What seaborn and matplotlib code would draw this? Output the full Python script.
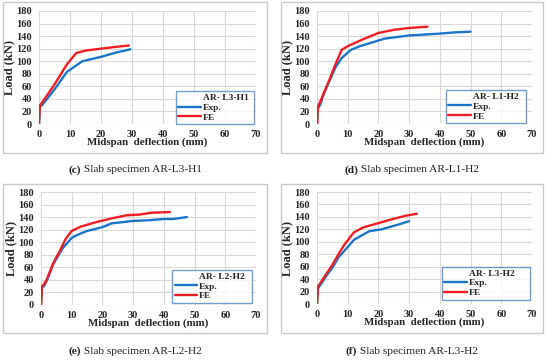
import numpy as np
import pandas as pd
import matplotlib
matplotlib.use("Agg")
import matplotlib.pyplot as plt
from matplotlib.lines import Line2D
from matplotlib.patches import Rectangle
import seaborn as sns

# Load-deflection data (deflection in mm, load in kN)
c_exp_x = [0, 0.3, 1, 5, 9, 14, 20, 25, 29.5]
c_exp_y = [0, 28, 30, 55, 83, 100, 107, 114, 119]
c_fe_x = [0, 0.3, 1, 5, 9, 12, 15, 20, 25, 29]
c_fe_y = [0, 30, 34, 63, 95, 113, 117, 120, 123, 125]

d_exp_x = [0, 0.3, 1, 2, 4, 6, 8, 11, 14, 18, 22, 30, 40, 45, 50]
d_exp_y = [0, 25, 30, 45, 68, 90, 105, 118, 124, 130, 136, 141, 144, 146, 147]
d_fe_x = [0, 0.3, 1, 2, 4, 6, 8, 10, 15, 20, 25, 30, 36]
d_fe_y = [0, 28, 35, 47, 70, 95, 118, 124, 135, 145, 150, 153, 155]

e_exp_x = [0, 0.3, 1, 2, 4, 7, 10, 12, 15, 20, 23, 30, 35, 40, 43, 47.5]
e_exp_y = [0, 28, 30, 40, 65, 90, 107, 112, 118, 124, 130, 134, 135, 137, 137, 140]
e_fe_x = [0, 0.3, 1, 2, 4, 6, 8, 10, 13, 18, 23, 28, 32, 36, 42]
e_fe_y = [0, 30, 33, 42, 67, 85, 105, 118, 125, 132, 138, 143, 144, 147, 148]

f_exp_x = [0, 0.3, 1, 3, 5, 7, 9, 12, 17, 21, 26, 30]
f_exp_y = [0, 25, 30, 45, 58, 75, 86, 103, 117, 120, 127, 133]
f_fe_x = [0, 0.3, 1, 3, 5, 7, 9, 12, 15, 20, 25, 29, 32.5]
f_fe_y = [0, 28, 33, 48, 63, 80, 96, 115, 123, 130, 137, 142, 145]

specimens = ["AR-L3-H1", "AR-L1-H2", "AR-L2-H2", "AR-L3-H2"]
legend_titles = ["AR- L3-H1", "AR- L1-H2", "AR- L2-H2", "AR- L3-H2"]
letters = ["c", "d", "e", "f"]
curves = [
    (c_exp_x, c_exp_y, c_fe_x, c_fe_y),
    (d_exp_x, d_exp_y, d_fe_x, d_fe_y),
    (e_exp_x, e_exp_y, e_fe_x, e_fe_y),
    (f_exp_x, f_exp_y, f_fe_x, f_fe_y),
]
x_ticks = [0, 10, 20, 30, 40, 50, 60, 70]
y_ticks = [0, 20, 40, 60, 80, 100, 120, 140, 160, 180]

sns.set_style("white")
plt.rcParams['font.family'] = ['Liberation Serif', 'DejaVu Serif']

fig = plt.figure(figsize=(5.5, 3.62), dpi=100)
W, H = 550, 362

# panel layout in pixels: (axes left, axes right, axes top, axes bottom, box l, box r, box t, box b, caption y)
layout = [
    (39, 256, 11, 124, 3, 267, 2, 153, 170),
    (317, 532, 11, 124, 281, 543, 2, 153, 170),
    (41, 256, 192, 305, 3, 267, 184, 333, 351),
    (317, 532, 192, 304, 281, 543, 184, 333, 351),
]
legend_boxes = [
    (0.63, 0.0, 0.36, 0.29),
    (0.60, 0.01, 0.37, 0.32),
    (0.61, 0.02, 0.37, 0.31),
    (0.58, 0.04, 0.41, 0.31),
]

blue = '#1a75c9'
red = '#f01e23'
captions = []

for i, (ex, ey, fx, fy) in enumerate(curves):
    al, ar, at, ab, bl, br, bt, bb, cy = layout[i]
    # grey frame around each panel
    fig.patches.append(Rectangle((bl / W, 1 - bb / H), (br - bl) / W, (bb - bt) / H,
                                 transform=fig.transFigure, fill=False,
                                 edgecolor='#c8c8c8', linewidth=1.0))
    ax = fig.add_axes([al / W, 1 - ab / H, (ar - al) / W, (ab - at) / H])
    df_exp = pd.DataFrame({'x': ex, 'y': ey})
    df_fe = pd.DataFrame({'x': fx, 'y': fy})
    sns.lineplot(data=df_exp, x='x', y='y', ax=ax, color=blue, linewidth=1.7,
                 label='Exp.', sort=False, zorder=3)
    sns.lineplot(data=df_fe, x='x', y='y', ax=ax, color=red, linewidth=1.7,
                 label='FE', sort=False, zorder=4)
    ax.set_xlim(0, 70)
    ax.set_ylim(0, 180)
    ax.set_xticks(x_ticks)
    ax.set_yticks(y_ticks)
    ax.grid(True, color='#d9d9d9', linewidth=0.8)
    ax.set_axisbelow(True)
    for s in ax.spines.values():
        s.set_visible(False)
    ax.tick_params(axis='x', length=0, pad=4, labelsize=7.5)
    ax.tick_params(axis='y', length=0, pad=5, labelsize=7.5)
    for lab in ax.get_xticklabels() + ax.get_yticklabels():
        lab.set_fontweight('bold')
    ax.set_xlabel('Midspan  deflection (mm)', fontsize=7.8, fontweight='bold', labelpad=-1)
    ax.set_ylabel('Load (kN)', fontsize=9, fontweight='bold')
    ax.yaxis.set_label_coords(-0.11, 0.5)

    handles, labels = ax.get_legend_handles_labels()
    title_handle = Line2D([], [], color='none')
    lg = ax.legend([title_handle] + handles, [legend_titles[i]] + labels,
                   loc='lower left', bbox_to_anchor=legend_boxes[i], mode='expand',
                   fontsize=6.8, frameon=True, fancybox=False, handlelength=2.4,
                   handletextpad=0.2, borderpad=0.25, labelspacing=0.12,
                   borderaxespad=0)
    lg.get_frame().set_edgecolor('#4a86c8')
    lg.get_frame().set_linewidth(1.0)
    for t in lg.get_texts():
        t.set_fontweight('bold')

    t1 = fig.text(0, 1 - cy / H, f"({letters[i]})", ha='left', va='center', fontsize=8.2,
                  fontweight='bold', color='#222222')
    t2 = fig.text(0, 1 - cy / H, f" Slab specimen {specimens[i]}", ha='left', va='center',
                  fontsize=8.2, color='#222222')
    captions.append((t1, t2, (bl + br) / 2))

# center each two-part caption under its panel
renderer = fig.canvas.get_renderer()
for t1, t2, cx in captions:
    w1 = t1.get_window_extent(renderer).width
    w2 = t2.get_window_extent(renderer).width
    start = cx - (w1 + w2) / 2
    t1.set_x(start / W)
    t2.set_x((start + w1) / W)

fig.savefig('out.png', dpi=100)
